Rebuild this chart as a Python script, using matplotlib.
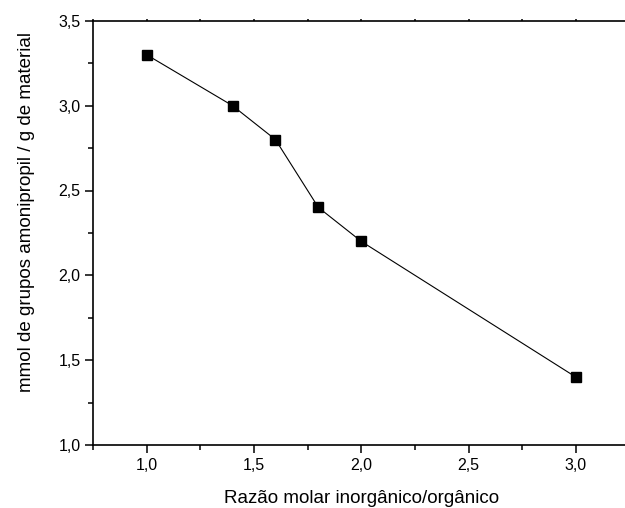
import numpy as np
import matplotlib
matplotlib.use("Agg")
import matplotlib.pyplot as plt
from matplotlib.ticker import MultipleLocator, FuncFormatter

plt.rcParams['font.family'] = ['Liberation Sans', 'DejaVu Sans']

razao = np.array([1.0, 1.4, 1.6, 1.8, 2.0, 3.0])
mmol = np.array([3.3, 3.0, 2.8, 2.4, 2.2, 1.4])

fig = plt.figure(figsize=(6.25, 5.08), dpi=100)
# o eixo continua para alem da borda direita, como no original
ax = fig.add_axes([0.1488, 0.124, 0.8586, 0.835])

ax.plot(razao, mmol, color='k', linewidth=0.8, marker='s', markersize=6.5)

ax.set_xlim(0.75, 3.25)
ax.set_ylim(1.0, 3.5)

virgula = FuncFormatter(lambda v, p: ('%.1f' % v).replace('.', ','))
ax.xaxis.set_major_locator(MultipleLocator(0.5))
ax.xaxis.set_minor_locator(MultipleLocator(0.25))
ax.yaxis.set_major_locator(MultipleLocator(0.5))
ax.yaxis.set_minor_locator(MultipleLocator(0.25))
ax.xaxis.set_major_formatter(virgula)
ax.yaxis.set_major_formatter(virgula)

ax.tick_params(which='major', direction='out', length=6, width=1.1, labelsize=11.5, pad=3)
ax.tick_params(which='minor', direction='out', length=3.5, width=1.1)
ax.tick_params(axis='x', which='both', top=True, labeltop=False)

# marcas minusculas no eixo de cima
for t in ax.xaxis.get_major_ticks() + ax.xaxis.get_minor_ticks():
    t.tick2line.set_markersize(1.5)

for s in ax.spines.values():
    s.set_linewidth(1.2)
ax.spines['right'].set_visible(False)

ax.set_xlabel("Razão molar inorgânico/orgânico", fontsize=13.5)
ax.set_ylabel("mmol de grupos amonipropil / g de material", fontsize=13.5)
ax.xaxis.set_label_coords(0.5, -0.105)
ax.yaxis.set_label_coords(-0.108, 0.55)

fig.savefig("out.png", dpi=100)
